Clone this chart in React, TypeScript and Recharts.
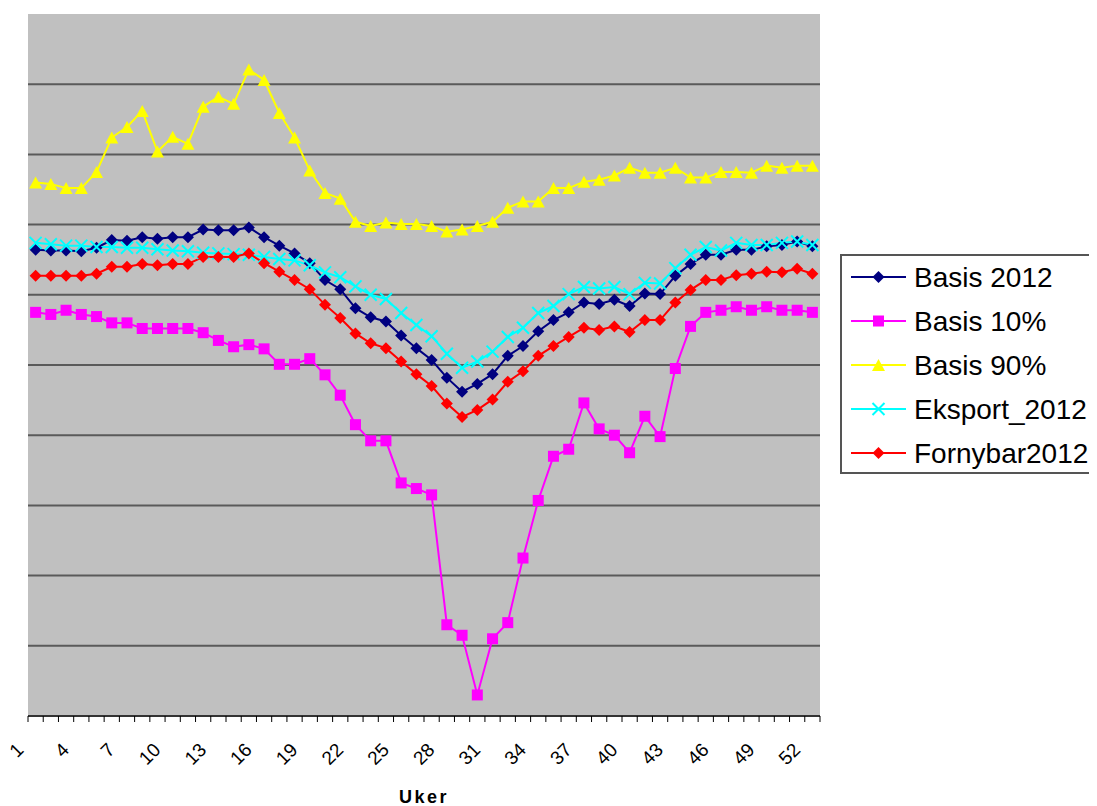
import React from 'react';
import { LineChart, Line, XAxis, YAxis, CartesianGrid, Legend, Label } from 'recharts';

const weeks = [
  1, 2, 3, 4, 5, 6, 7, 8, 9, 10, 11, 12, 13, 14, 15, 16, 17, 18, 19, 20, 21, 22, 23, 24, 25, 26,
  27, 28, 29, 30, 31, 32, 33, 34, 35, 36, 37, 38, 39, 40, 41, 42, 43, 44, 45, 46, 47, 48, 49, 50, 51, 52,
];

const basis2012 = [
  66.4, 66.3, 66.3, 66.2, 66.7, 67.8, 67.7, 68.2, 68.0, 68.2, 68.2, 69.3, 69.2, 69.2, 69.6, 68.2, 67.0,
  65.9, 64.5, 62.1, 60.8, 58.1, 56.8, 56.2, 54.2, 52.4, 50.7, 48.2, 46.2, 47.3, 48.7, 51.3, 52.7, 54.8,
  56.4, 57.5, 58.9, 58.7, 59.3, 58.4, 60.2, 60.1, 62.7, 64.4, 65.7, 65.7, 66.4, 66.4, 66.9, 67.1, 67.6, 66.9,
];

const basis10 = [
  57.5, 57.2, 57.8, 57.2, 56.9, 56.0, 56.0, 55.2, 55.2, 55.2, 55.2, 54.6, 53.5, 52.6, 52.9, 52.3, 50.1,
  50.1, 50.9, 48.6, 45.7, 41.5, 39.2, 39.2, 33.2, 32.4, 31.5, 13.0, 11.5, 3.0, 11.0, 13.3, 22.5, 30.7,
  37.0, 38.0, 44.6, 40.9, 40.0, 37.5, 42.7, 39.8, 49.5, 55.5, 57.5, 57.8, 58.3, 57.8, 58.3, 57.8, 57.8, 57.5,
];

const basis90 = [
  76.0, 75.8, 75.2, 75.2, 77.5, 82.4, 83.9, 86.2, 80.4, 82.5, 81.5, 86.8, 88.2, 87.2, 92.1, 90.6, 85.9,
  82.4, 77.7, 74.5, 73.7, 70.4, 69.8, 70.3, 70.1, 70.1, 69.8, 69.0, 69.3, 69.8, 70.4, 72.4, 73.3, 73.3,
  75.2, 75.2, 76.1, 76.4, 77.0, 78.1, 77.4, 77.4, 78.1, 76.7, 76.7, 77.5, 77.5, 77.4, 78.4, 78.1, 78.4, 78.4,
];

const eksport2012 = [
  67.4, 67.2, 67.0, 67.0, 66.8, 66.8, 66.7, 66.7, 66.5, 66.3, 66.2, 66.0, 65.9, 65.8, 65.7, 65.4, 65.1,
  64.9, 64.2, 63.2, 62.5, 61.2, 60.0, 59.4, 57.4, 55.7, 54.1, 51.6, 49.6, 50.5, 51.9, 54.0, 55.3, 57.4,
  58.4, 60.1, 61.1, 60.9, 61.1, 60.1, 61.7, 61.6, 63.8, 65.7, 66.8, 66.3, 67.4, 67.1, 67.1, 67.4, 67.6, 67.1,
];

const fornybar2012 = [
  62.7, 62.7, 62.7, 62.7, 63.0, 64.0, 64.0, 64.4, 64.2, 64.4, 64.4, 65.4, 65.4, 65.4, 65.9, 64.5, 63.3,
  62.1, 60.8, 58.6, 56.7, 54.5, 53.1, 52.4, 50.5, 48.7, 47.0, 44.5, 42.6, 43.6, 45.1, 47.6, 49.1, 51.3,
  52.7, 54.0, 55.3, 55.0, 55.5, 54.7, 56.4, 56.4, 58.9, 60.7, 62.1, 62.1, 62.8, 63.0, 63.3, 63.2, 63.7, 63.0,
];

const yMax = 100;
const yTicks = [0, 10, 20, 30, 40, 50, 60, 70, 80, 90];

const data = weeks.map((week, i) => ({
  week,
  basis2012: basis2012[i],
  basis10: basis10[i],
  basis90: basis90[i],
  eksport2012: eksport2012[i],
  fornybar2012: fornybar2012[i],
}));

type Marker = 'diamond' | 'square' | 'triangle' | 'cross';

const series: { key: string; name: string; color: string; marker: Marker }[] = [
  { key: 'basis2012', name: 'Basis 2012', color: '#000080', marker: 'diamond' },
  { key: 'basis10', name: 'Basis 10%', color: '#FF00FF', marker: 'square' },
  { key: 'basis90', name: 'Basis 90%', color: '#FFFF00', marker: 'triangle' },
  { key: 'eksport2012', name: 'Eksport_2012', color: '#00FFFF', marker: 'cross' },
  { key: 'fornybar2012', name: 'Fornybar2012', color: '#FF0000', marker: 'diamond' },
];

const FONT = '"Liberation Sans", Arial, sans-serif';
const CHART_W = 1089;
const CHART_H = 798;
const margin = { top: 6, right: 277, bottom: 0, left: 20 };
const plotW = CHART_W - margin.left - margin.right;
const halfBand = plotW / weeks.length / 2;

function MarkerShape({ type, cx, cy, color }: { type: Marker; cx: number; cy: number; color: string }) {
  switch (type) {
    case 'diamond':
      return <path d={`M${cx},${cy - 6}L${cx + 6},${cy}L${cx},${cy + 6}L${cx - 6},${cy}Z`} fill={color} />;
    case 'square':
      return <rect x={cx - 5.5} y={cy - 5.5} width={11} height={11} fill={color} />;
    case 'triangle':
      return <path d={`M${cx},${cy - 6}L${cx + 6.5},${cy + 6}L${cx - 6.5},${cy + 6}Z`} fill={color} />;
    default:
      return (
        <path
          d={`M${cx - 6},${cy - 6}L${cx + 6},${cy + 6}M${cx + 6},${cy - 6}L${cx - 6},${cy + 6}`}
          stroke={color}
          strokeWidth={2}
          fill="none"
        />
      );
  }
}

function WeekTick(props: any) {
  const { x, y, payload } = props;
  const i = payload.index;
  const lx = x - 11;
  const ly = y + 35;
  return (
    <g>
      <line x1={x - halfBand} y1={y} x2={x - halfBand} y2={y + 6} stroke="#000" />
      {i === weeks.length - 1 && <line x1={x + halfBand} y1={y} x2={x + halfBand} y2={y + 6} stroke="#000" />}
      {i % 3 === 0 && (
        <text
          x={lx}
          y={ly}
          textAnchor="end"
          transform={`rotate(-45, ${lx}, ${ly})`}
          fontSize={19}
          fontFamily={FONT}
          fill="#000"
        >
          {payload.value}
        </text>
      )}
    </g>
  );
}

function LegendBox() {
  return (
    <svg width={257} height={220} style={{ display: 'block' }}>
      <rect x={0} y={0} width={257} height={220} fill="#fff" />
      <path d="M1,0V220M0,1H257M0,219H257" stroke="#555" strokeWidth={2} fill="none" />
      {series.map((s, i) => {
        const cy = 23 + i * 44;
        return (
          <g key={s.key}>
            <line x1={11} x2={66} y1={cy} y2={cy} stroke={s.color} strokeWidth={2} />
            <MarkerShape type={s.marker} cx={38.5} cy={cy} color={s.color} />
            <text x={74} y={cy + 10} fontSize={28} fontFamily={FONT} fill="#000">
              {s.name}
            </text>
          </g>
        );
      })}
    </svg>
  );
}

// horizontal grid rows at the value ticks, within the plot area
const gridRows = ({ yAxis, offset }: any) => {
  const scale = yAxis && typeof yAxis.scale === 'function' ? yAxis.scale : null;
  return yTicks.map((t) => (scale ? scale(t) : offset.top + offset.height * (1 - t / yMax)));
};

export default function App() {
  return (
    <div style={{ width: CHART_W, height: CHART_H }}>
      <LineChart width={CHART_W} height={CHART_H} data={data} margin={margin} style={{ fontFamily: FONT }}>
        <CartesianGrid
          vertical={false}
          fill="#C0C0C0"
          fillOpacity={1}
          stroke="#5a5a5a"
          strokeWidth={2}
          horizontalCoordinatesGenerator={gridRows}
        />
        <XAxis
          dataKey="week"
          type="category"
          scale="band"
          interval={0}
          height={90}
          tickSize={0}
          tickMargin={0}
          tickLine={false}
          axisLine={{ stroke: '#333', strokeWidth: 2 }}
          tick={<WeekTick />}
        >
          <Label
            content={({ viewBox }: any) => (
              <text
                x={viewBox.x + viewBox.width / 2}
                y={viewBox.y + 87}
                textAnchor="middle"
                fontSize={18}
                fontWeight="bold"
                letterSpacing={2.5}
                fontFamily={FONT}
                fill="#000"
              >
                Uker
              </text>
            )}
          />
        </XAxis>
        <XAxis
          xAxisId="frame"
          orientation="top"
          dataKey="week"
          scale="band"
          height={0}
          tick={false}
          tickLine={false}
          axisLine={{ stroke: '#808080', strokeWidth: 2 }}
        />
        <YAxis
          width={0}
          type="number"
          domain={[0, yMax]}
          ticks={yTicks}
          tick={false}
          tickLine={false}
          axisLine={{ stroke: '#808080', strokeWidth: 2 }}
        />
        <YAxis
          yAxisId="frame"
          orientation="right"
          width={0}
          type="number"
          domain={[0, yMax]}
          tick={false}
          tickLine={false}
          axisLine={{ stroke: '#808080', strokeWidth: 2 }}
        />
        {series.map((s) => (
          <Line
            key={s.key}
            dataKey={s.key}
            name={s.name}
            type="linear"
            stroke={s.color}
            strokeWidth={2}
            isAnimationActive={false}
            activeDot={false}
            dot={(p: any) => (
              <MarkerShape key={`${s.key}-${p.index}`} type={s.marker} cx={p.cx} cy={p.cy} color={s.color} />
            )}
          />
        ))}
        <Legend
          layout="horizontal"
          align="center"
          verticalAlign="middle"
          content={<LegendBox />}
          wrapperStyle={{ position: 'absolute', left: 832, top: 246, width: 257, height: 220 }}
        />
      </LineChart>
    </div>
  );
}
